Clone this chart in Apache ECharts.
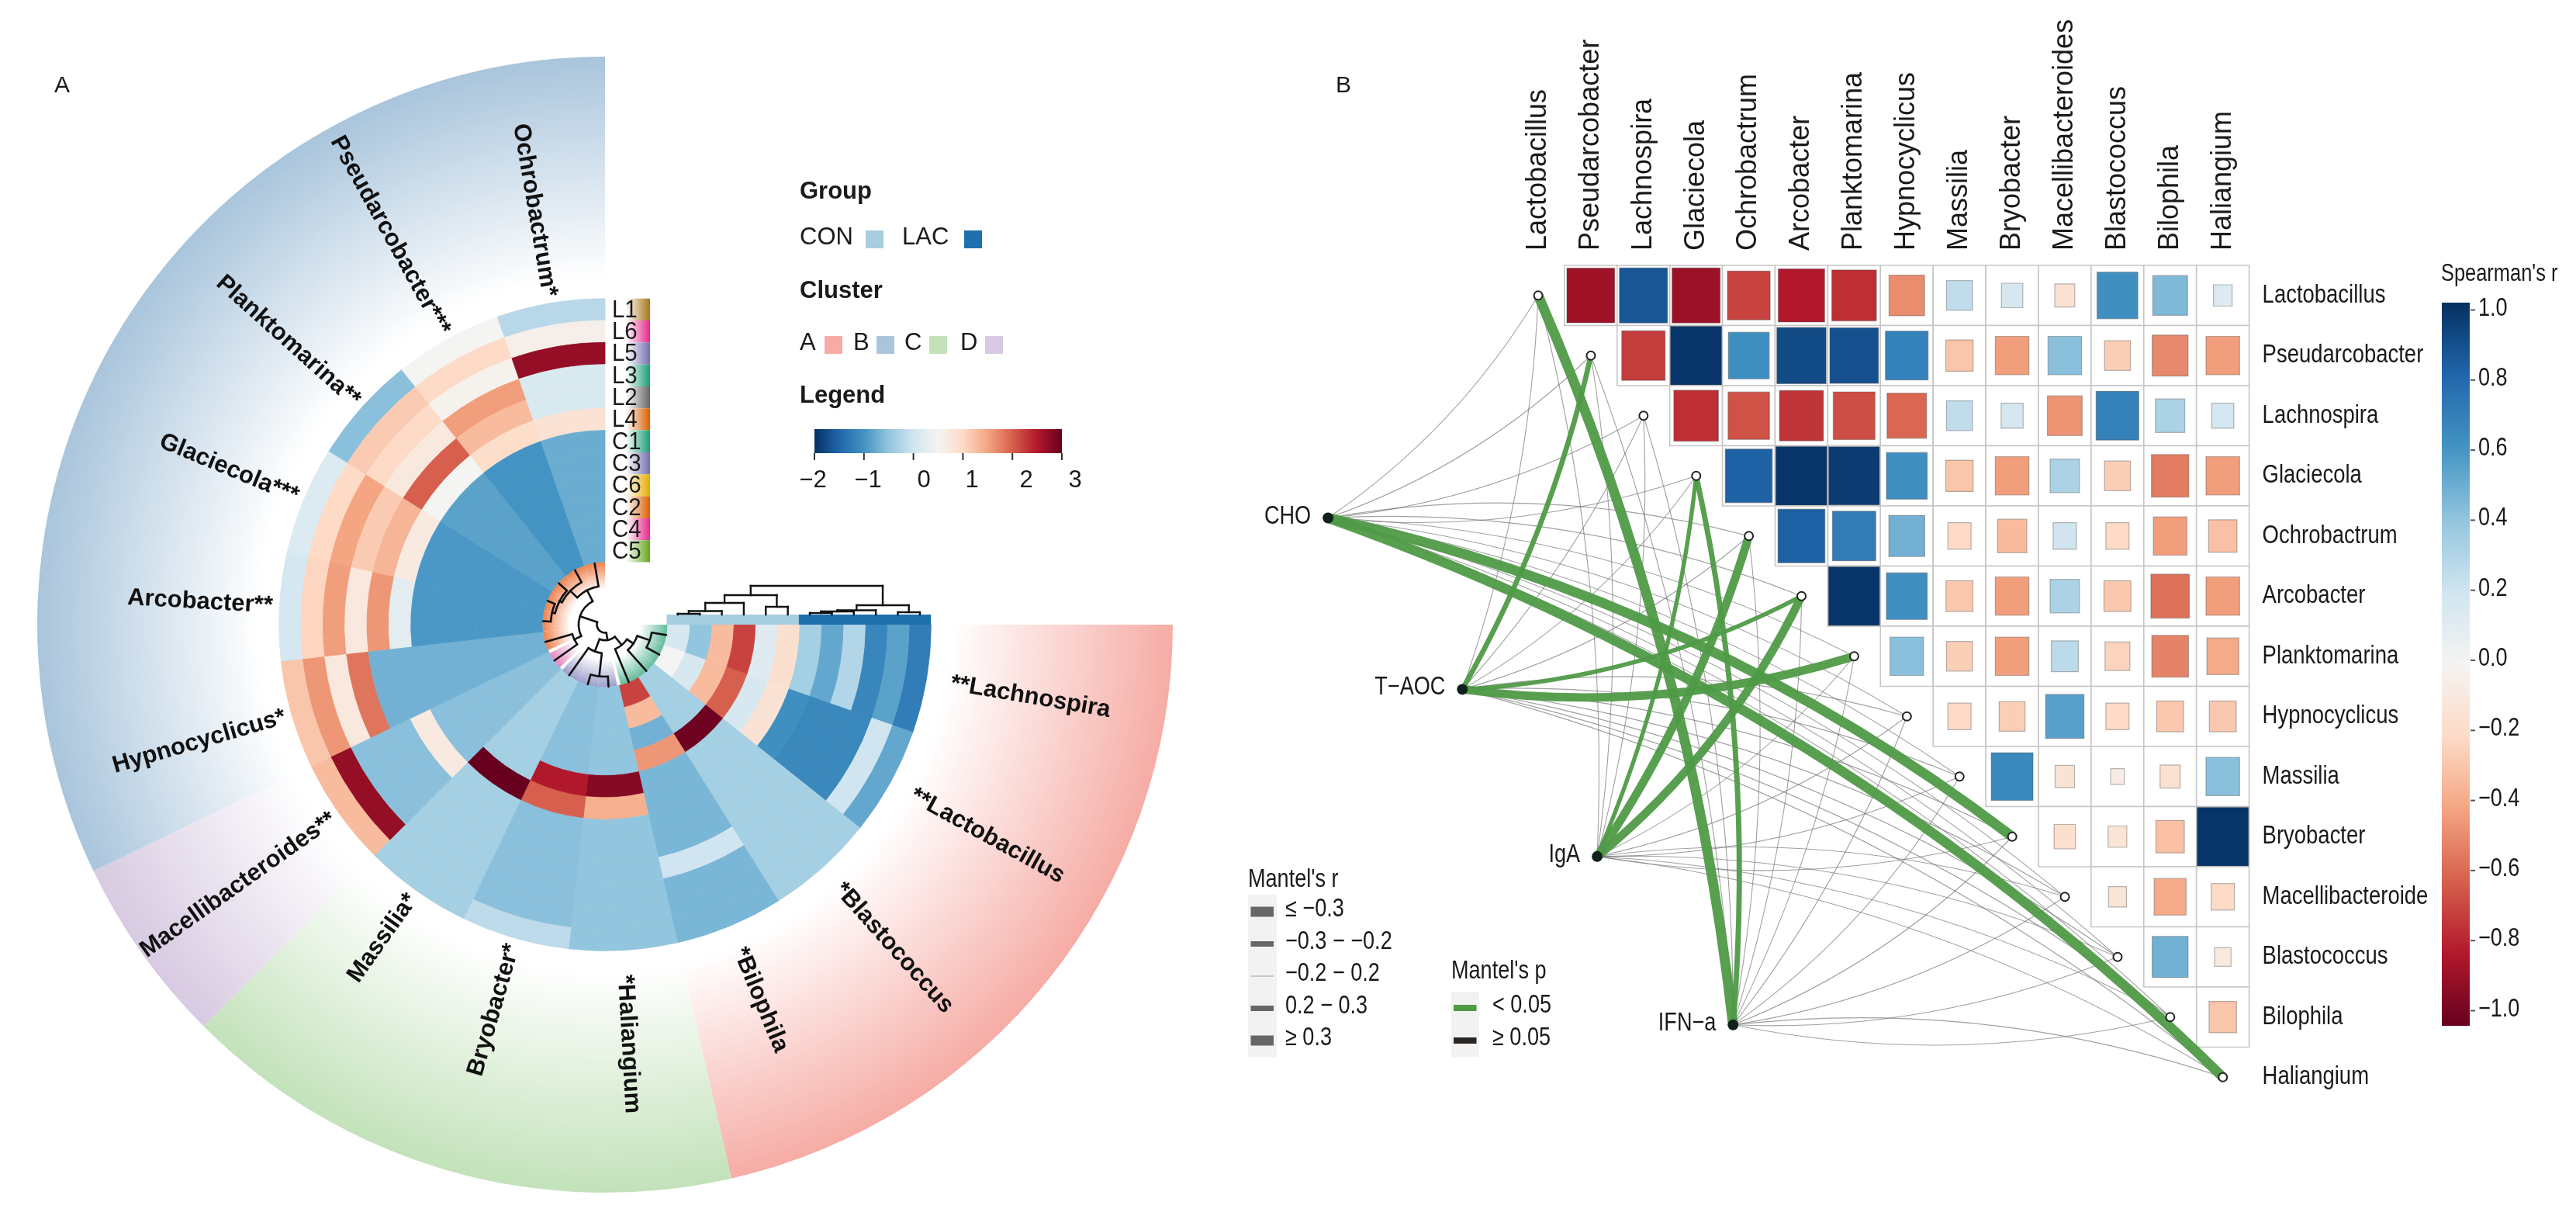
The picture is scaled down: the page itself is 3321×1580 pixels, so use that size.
<!DOCTYPE html>
<html><head><meta charset="utf-8">
<style>html,body{margin:0;padding:0;background:#fff}#c{width:3321px;height:1580px}</style>
<script src="https://cdn.jsdelivr.net/npm/echarts@6/dist/echarts.min.js"></script>
</head><body><div id="c"></div>
<script>
// ---------- Panel A data ----------
const sectorLabels = ['**Lachnospira','**Lactobacillus','*Blastococcus','*Bilophila','*Haliangium','Bryobacter*','Massilia*','Macellibacteroides**','Hypnocyclicus*','Arcobacter**','Glaciecola***','Planktomarina**','Pseudarcobacter***','Ochrobactrum*'];
const ringNames = ['L1','L6','L5','L3','L2','L4','C1','C3','C6','C2','C4','C5'];
const ringDark2 = ['#a6761d','#e7298a','#7570b3','#1b9e77','#666666','#d95f02','#1b9e77','#7570b3','#e6ab02','#d95f02','#e7298a','#66a61e'];
const ringL1 = [-1.25,-.8,-.35,-.65,-.5,-.15,-.35,1.3,1.2,.05,.15,-.55,.5,-.2];
const ringL6 = [-.85,0,-.35,-.65,-.5,-.55,-.35,2.7,1.6,1.05,1,1.15,1,.6];
const ringL5 = [-1.15,-1.12,-.35,-.65,-.5,-.55,-.35,-.55,.75,1.55,1.5,1,.55,2.7];
const ringL3 = [-.25,-1.12,-.35,0,-.5,-.55,-.35,-.55,1.85,.75,1.15,.75,1.55,.12];
const ringL2 = [-.8,-1.12,-.35,-.65,-.5,-.55,-.35,-.55,-.7,1.6,1.35,2,1.3,.12];
const ringL4 = [-.35,-1.05,-.35,-.65,-.5,-.55,-.35,.7,-.7,.25,.7,.5,.95,.85];
const ringC1 = [.9,.85,-.35,-.65,1.4,2,3,-.55,-.7,-.95,-.95,-.85,-1,-.75];
const ringC3 = [.2,.1,-.35,-.65,2.8,2.5,-.35,-.55,-.7,-.95,-.95,-.85,-1,-.75];
const ringC6 = [2.2,2,2.95,1.6,-.5,-.55,-.35,-.55,-.7,-.95,-.95,-.85,-1,-.75];
const ringC2 = [1.3,1.3,-.35,-.7,-.5,-.55,-.35,-.55,-.7,-.95,-.95,-.85,-1,-.75];
const ringC4 = [-.5,.1,-.35,1.3,-.5,-.55,-.35,-.55,-.7,-.95,-.95,-.85,-1,-.75];
const ringC5 = [.1,.5,-.35,2.2,-.5,-.55,-.35,-.55,-.7,-.95,-.95,-.85,-1,-.75];
const rings = [ringL1,ringL6,ringL5,ringL3,ringL2,ringL4,ringC1,ringC3,ringC6,ringC2,ringC4,ringC5];
const clusterNames = ['A','C','D','B'];
const clusterSpan = [4,3,1,6];
const clusterColors = ['#f6aca5','#c3e2ba','#d8cae2','#a9c5dc'];
const leafColors = ['#63bb9c','#9d9ecb','#e58ac0','#ef8250'];
const heatStops = ['#053061','#2166ac','#4393c3','#92c5de','#d1e5f0','#f4f4f2','#fddbc7','#f4a582','#d6604d','#b2182b','#67001f'];
// row dendrogram: [merge height, child, child]; leaves are sector indexes
const rowTree = [10.5,
  [34,[50,13,[62.5,12,[66,11,[70,10,9]]]],[44,8,7]],
  [20,[37,6,[67,5,4]],[34,3,[44,2,[61,1,0]]]]];
// column dendrogram: leaves are ring indexes counted from the centre
const colTree = [37,
  [25,[15,[4.5,[1,0,1],2],3],[10,4,5]],
  [12,[5.5,[4,[2,6,7],8],9],[3,10,11]]];
const groupNames = ['CON','LAC'];
const groupColors = ['#a6cde0','#1f70ad'];

// ---------- Panel B data ----------
const taxa = ['Lactobacillus','Pseudarcobacter','Lachnospira','Glaciecola','Ochrobactrum','Arcobacter','Planktomarina','Hypnocyclicus','Massilia','Bryobacter','Macellibacteroides','Blastococcus','Bilophila','Haliangium'];
const rightLabels = ['Lactobacillus','Pseudarcobacter','Lachnospira','Glaciecola','Ochrobactrum','Arcobacter','Planktomarina','Hypnocyclicus','Massilia','Bryobacter','Macellibacteroide','Blastococcus','Bilophila','Haliangium'];
const rLactobacillus = [-.85,.86,-.86,-.68,-.8,-.74,-.47,.25,.17,-.15,.62,.45,.13];
const rPseudarcobacter = [-.7,.98,.62,.9,.88,.68,-.28,-.42,.42,-.25,-.48,-.42];
const rLachnospira = [-.74,-.64,-.72,-.65,-.58,.25,.18,-.45,.68,.32,.18];
const rGlaciecola = [.82,.98,.96,.62,-.28,-.42,.32,-.25,-.52,-.42];
const rOchrobactrum = [.82,.7,.48,-.2,-.32,.2,-.2,-.42,-.3];
const rArcobacter = [.98,.62,-.27,-.42,.32,-.27,-.55,-.42];
const rPlanktomarina = [.42,-.25,-.42,.27,-.23,-.5,-.38];
const rHypnocyclicus = [-.2,-.25,.55,-.2,-.27,-.27];
const rMassilia = [.65,-.14,-.07,-.15,.42];
const rBryobacter = [-.17,-.13,-.3,.98];
const rMacellibacteroides = [-.12,-.38,-.2];
const rBlastococcus = [.48,-.1];
const rBilophila = [-.28];
const corrRows = [rLactobacillus,rPseudarcobacter,rLachnospira,rGlaciecola,rOchrobactrum,rArcobacter,rPlanktomarina,rHypnocyclicus,rMassilia,rBryobacter,rMacellibacteroides,rBlastococcus,rBilophila];
const envNames = ['CHO','T\u2212AOC','IgA','IFN\u2212a'];
const envCol = [-3.99,-1.44,1.12,3.7];
const envRow = [3.7,6.55,9.33,12.13];
const mantelCHO  = [.1,.1,.1,.1,.1,.1,.1,.1,.1,.43,.1,.1,.1,.43];
const mantelTAOC = [.1,.22,.1,.1,.1,.18,.36,.1,.1,.1,.1,.1,.1,.1];
const mantelIgA  = [.1,.1,.1,.18,.36,.36,.1,.1,.1,.1,.1,.1,.1,.1];
const mantelIFN  = [.43,.1,.1,.23,.1,.1,.1,.1,.1,.1,.1,.1,.1,.1];
const mantelAll = [mantelCHO,mantelTAOC,mantelIgA,mantelIFN];
const mantelRLabels = ['\u2264 \u22120.3','\u22120.3 \u2212 \u22120.2','\u22120.2 \u2212 0.2','0.2 \u2212 0.3','\u2265 0.3'];
const mantelPLabels = ['< 0.05','\u2265 0.05'];
const heatTicks = ['\u22122','\u22121','0','1','2','3'];
const corrTicks = [1,.8,.6,.4,.2,0,-.2,-.4,-.6,-.8,-1];

// ---------- helpers ----------
const FF = '"Liberation Sans",Arial,sans-serif';
const NARROW = .82;   // panel B text is horizontally condensed
function hex(c){return [1,3,5].map(i=>parseInt(c.substr(i,2),16));}
function ramp(t){t=Math.max(0,Math.min(1,t));const n=heatStops.length-1,p=t*n,i=Math.min(n-1,Math.floor(p)),f=p-i,a=hex(heatStops[i]),b=hex(heatStops[i+1]);
  return 'rgb('+a.map((v,k)=>Math.round(v+(b[k]-v)*f)).join(',')+')';}
const heatColor = v => ramp((v+2)/5);
const corrColor = v => ramp((1-v)/2);
const rampStops = ()=>heatStops.map((c,i)=>({offset:i/(heatStops.length-1),color:c}));
function lerpGrad(x,y,x2,y2,stops){return new echarts.graphic.LinearGradient(x,y,x2,y2,stops);}

const SEC = 270/14;           // degrees per sector
const R0 = 80.4, RH = 28.33;  // ring inner radius and ring height
const ringOuter = k => R0 + RH*(12-k);
const ringRad = ringOuter(0);
const RB = 732;               // outer radius of the cluster band
const rad = d => d*Math.PI/180;

function polarDist(api,r){const p=api.coord([r,0]);const o=api.coord([0,0]);return Math.hypot(p[0]-o[0],p[1]-o[1]);}
function sector(api,r0,r1,a0,a1,fill,stroke){const o=api.coord([0,0]);
  return {type:'sector',shape:{cx:o[0],cy:o[1],r0:polarDist(api,r0),r:polarDist(api,r1),startAngle:rad(a0),endAngle:rad(a1),clockwise:true},style:{fill,stroke:stroke||null,lineWidth:stroke?0.8:0}};}
function textStyle(text,font,al){return {text,font,fill:'#1a1a1a',align:al,textAlign:al,verticalAlign:'middle',textVerticalAlign:'middle'};}

// ---------- series data ----------
const heatData=[];rings.forEach((vals,k)=>vals.forEach((v,s)=>heatData.push([s,k,v])));
const clusterData=[];{let s=0;clusterSpan.forEach((n,i)=>{clusterData.push([s,s+n,i]);s+=n;});}
const leafData=[];{let s=0;clusterSpan.forEach((n,i)=>{for(let j=0;j<n;j++)leafData.push([s+j,i]);s+=n;});}
const polarSegs=[];
function walkPolar(node){ if(typeof node==='number') return {a:(node+.5)*SEC,r:80};
  const h=node[0],c1=walkPolar(node[1]),c2=walkPolar(node[2]);
  polarSegs.push(['arc',h,Math.min(c1.a,c2.a),Math.max(c1.a,c2.a)]);
  polarSegs.push(['rad',h,c1.r,c1.a]);polarSegs.push(['rad',h,c2.r,c2.a]);
  return {a:(c1.a+c2.a)/2,r:h};}
walkPolar(rowTree);
const colSegs=[];
function walkCol(node){ if(typeof node==='number') return {x:node,h:0};
  const h=node[0],c1=walkCol(node[1]),c2=walkCol(node[2]);
  colSegs.push([c1.x,c1.h,c1.x,h]);colSegs.push([c1.x,h,c2.x,h]);colSegs.push([c2.x,h,c2.x,c2.h]);
  return {x:(c1.x+c2.x)/2,h};}
walkCol(colTree);
const corrData=[];corrRows.forEach((row,i)=>row.forEach((v,n)=>corrData.push([i+1+n,i,v])));
const lineData=[];
[false,true].forEach(sig=>mantelAll.forEach((vals,e)=>vals.forEach((m,s)=>{
  const isSig=m>=.15; if(isSig!==sig) return;
  const up=s<envRow[e];
  const steep=Math.abs(s-envRow[e])*77.5>Math.abs(s-envCol[e])*67.9*1.5;
  const c=steep?.075:.11;
  lineData.push({coords:[[envCol[e],envRow[e]],[s,s]],lineStyle:{width:isSig?m*30:1.1,color:isSig?'#4f9a47':'#6e6e6e',opacity:isSig?.95:.65,curveness:up?-c:c}});
})));

// ---------- graphic legends ----------
const G=[];
function T(text,x,y,size,opt){opt=opt||{};const a=opt.align||'left';G.push({type:'text',x,y,silent:true,z:20,scaleX:opt.sx||1,style:textStyle(text,(opt.bold?'bold ':'')+size+'px '+FF,a)});}
function RB_(x,y,w,h,fill){G.push({type:'rect',x,y,silent:true,z:10,shape:{x:0,y:0,width:w,height:h},style:{fill}});}
T('A',70,111,30);T('B',1722,111,30);
T('Group',1031,247,31,{bold:true});
T(groupNames[0],1031,306,31);RB_(1116,297,23,23,groupColors[0]);
T(groupNames[1],1163,306,31);RB_(1243,297,23,23,groupColors[1]);
T('Cluster',1031,375,31,{bold:true});
[[1031,1063,0],[1100,1130,3],[1166,1198,1],[1238,1270,2]].forEach(a=>{T(clusterNames[a[2]],a[0],442,31);RB_(a[1],433,23,23,clusterColors[a[2]]);});
T('Legend',1031,510,31,{bold:true});
RB_(1050,553,319,31,lerpGrad(0,0,1,0,rampStops()));
heatTicks.forEach((t,i)=>{RB_(1049+i*63.8,584,2,9,'#333');});
[1048,1119,1191,1253,1323,1386].forEach((x,i)=>T(heatTicks[i],x,619,31,{align:'center'}));
// Spearman bar
T("Spearman's r",3147,353,31,{sx:NARROW});
RB_(3148,390,36,932,lerpGrad(0,0,0,1,rampStops()));
corrTicks.forEach(v=>{const y=851-v*451.5;RB_(3185,y-1,6,2,'#555');T((v<0?'\u2212':'')+Math.abs(v).toFixed(1),3195,y-2,33,{sx:NARROW});});
// Mantel legends
T("Mantel's r",1609,1134,33,{sx:NARROW});RB_(1609,1153,37,209,'#f2f2f2');
[13,7,1.5,7,13].forEach((w,i)=>{const y=1175+i*41.5;RB_(1612.5,y-w/2,29.5,w,i==2?'#bdbdbd':'#666');T(mantelRLabels[i],1657,y-3,33,{sx:NARROW});});
T("Mantel's p",1871,1252,33,{sx:NARROW});RB_(1871,1278,36,84,'#f2f2f2');
['#4f9a47','#2a2623'].forEach((c,i)=>{const y=1299+i*42;RB_(1874,y-4,29.5,8,c);T(mantelPLabels[i],1924,y-3,33,{sx:NARROW});});

// ---------- option ----------
const chart=echarts.init(document.getElementById('c'),null,{renderer:'canvas'});
chart.setOption({
  animation:false,backgroundColor:'#fff',
  polar:{center:[780,805],radius:[0,RB]},
  radiusAxis:{type:'value',min:0,max:RB,show:false},
  angleAxis:{type:'value',min:0,max:360,startAngle:0,clockwise:true,show:false},
  grid:[
    {left:1949,width:950.6,top:342,height:1085},
    {left:1677.5,width:1222.2,top:342,height:1085},
    {left:859.6,width:340.5,top:750,height:55}
  ],
  xAxis:[
    {gridIndex:0,type:'category',position:'top',data:taxa,axisLine:{show:false},axisTick:{show:false},splitLine:{show:false},
     axisLabel:{rotate:-90,fontSize:36,fontFamily:FF,color:'#1a1a1a',margin:19,interval:0}},
    {gridIndex:1,type:'value',min:-4.5,max:13.5,show:false},
    {gridIndex:2,type:'value',min:-.5,max:11.5,show:false}
  ],
  yAxis:[
    {gridIndex:0,type:'category',position:'right',inverse:true,data:rightLabels,axisLine:{show:false},axisTick:{show:false},splitLine:{show:false},axisLabel:{show:false}},
    {gridIndex:1,type:'value',inverse:true,min:-.5,max:13.5,show:false},
    {gridIndex:2,type:'value',min:-13,max:42,show:false}
  ],
  graphic:G,
  series:[
    {type:'custom',coordinateSystem:'polar',z:1,silent:true,data:clusterData,
     renderItem(p,api){const o=api.coord([0,0]),R=polarDist(api,RB),s=api.value(0),e=api.value(1),c=clusterColors[api.value(2)];
       const g=new echarts.graphic.RadialGradient(o[0],o[1],R,[{offset:0,color:'#fff'},{offset:polarDist(api,ringRad+25)/R,color:'#fff'},{offset:1,color:c}],true);
       return sector(api,ringRad+2,RB,s*SEC,e*SEC,g);}},
    {type:'custom',coordinateSystem:'polar',z:2,silent:true,data:heatData,
     renderItem(p,api){const s=api.value(0),k=api.value(1),c=heatColor(api.value(2));
       return sector(api,ringOuter(k+1),ringOuter(k),s*SEC,(s+1)*SEC,c,c);}},
    {type:'custom',coordinateSystem:'polar',z:2,silent:true,data:leafData,
     renderItem(p,api){const o=api.coord([0,0]),R=polarDist(api,R0),s=api.value(0),c=leafColors[api.value(1)];
       const g=new echarts.graphic.RadialGradient(o[0],o[1],R,[{offset:0,color:'#fff'},{offset:.56,color:'#fff'},{offset:1,color:c}],true);
       return sector(api,30,R0,s*SEC+(s==4||s==8||s==7?1.6:0),(s+1)*SEC-(s==3||s==6||s==7?1.6:0),g);}},
    {type:'custom',coordinateSystem:'polar',z:3,silent:true,data:polarSegs.map((s,i)=>[i]),
     renderItem(p,api){const s=polarSegs[api.value(0)],o=api.coord([0,0]);const st={stroke:'#111',lineWidth:2.6,fill:null,lineCap:'round'};
       if(s[0]==='arc')return {type:'arc',shape:{cx:o[0],cy:o[1],r:polarDist(api,s[1]),startAngle:rad(s[2]),endAngle:rad(s[3]),clockwise:true},style:st};
       const a=api.coord([s[1],s[3]]),b=api.coord([s[2],s[3]]);
       return {type:'line',shape:{x1:a[0],y1:a[1],x2:b[0],y2:b[1]},style:st};}},
    {type:'custom',coordinateSystem:'polar',z:4,silent:true,data:sectorLabels.map((_,i)=>[i]),
     renderItem(p,api){const i=api.value(0),th=(i+.5)*SEC,out=i<=4;const q=api.coord([out?452:429,th]);
       const rot=out?-rad(th):-rad(th+180);const al=out?'left':'right';
       return {type:'text',x:q[0],y:q[1],rotation:rot,style:Object.assign(textStyle(sectorLabels[i],'bold 31px '+FF,al),{fill:'#111'})};}},
    {type:'custom',coordinateSystem:'polar',z:4,silent:true,data:ringNames.map((_,i)=>[i]),
     renderItem(p,api){const k=api.value(0),o=api.coord([0,0]),y0=o[1]-polarDist(api,ringOuter(k)),y1=o[1]-polarDist(api,ringOuter(k+1)),x=o[0]+1;
       return {type:'group',children:[
         {type:'rect',shape:{x,y:y0,width:57,height:y1-y0},style:{fill:new echarts.graphic.LinearGradient(0,0,1,0,[{offset:0,color:'#fff'},{offset:.45,color:'#fff'},{offset:1,color:ringDark2[k]}])}},
         {type:'text',x:x+8,y:(y0+y1)/2+1,scaleX:.92,style:textStyle(ringNames[k],'32px '+FF,'left')}]};}},
    {type:'custom',xAxisIndex:2,yAxisIndex:2,z:3,silent:true,data:[0,1].map(g=>[g]),
     renderItem(p,api){const g=api.value(0);const a=api.coord([g*6-.5,0]),b=api.coord([g*6+5.5,-13]);
       return {type:'rect',shape:{x:a[0],y:a[1],width:b[0]-a[0],height:b[1]-a[1]},style:{fill:groupColors[g]}};}},
    {type:'custom',xAxisIndex:2,yAxisIndex:2,z:3,silent:true,data:colSegs.map((s,i)=>[i]),
     renderItem(p,api){const s=colSegs[api.value(0)],a=api.coord([s[0],s[1]]),b=api.coord([s[2],s[3]]);
       return {type:'line',shape:{x1:a[0],y1:a[1],x2:b[0],y2:b[1]},style:{stroke:'#111',lineWidth:2.4,lineCap:'square'}};}},
    {type:'custom',xAxisIndex:0,yAxisIndex:0,z:2,silent:true,data:corrData,
     renderItem(p,api){const c=api.coord([api.value(0),api.value(1)]),s=api.size([1,1]),v=api.value(2),f=Math.sqrt(Math.abs(v))*.985,w=s[0]*f,h=s[1]*f;
       return {type:'group',children:[
         {type:'rect',shape:{x:c[0]-s[0]/2,y:c[1]-s[1]/2,width:s[0],height:s[1]},style:{fill:'#fff',stroke:'#c6c6c6',lineWidth:1.6}},
         {type:'rect',shape:{x:c[0]-w/2,y:c[1]-h/2,width:w,height:h},style:{fill:corrColor(v),stroke:'rgba(80,80,80,.4)',lineWidth:1.2}}]};}},
    // right-hand row labels
    {type:'custom',xAxisIndex:0,yAxisIndex:0,z:6,silent:true,data:rightLabels.map((_,i)=>[13.5,i]),
     renderItem(p,api){const c=api.coord([13,api.value(1)]),s=api.size([1,1]);
       return {type:'text',x:c[0]+s[0]/2+17,y:c[1],scaleX:NARROW,style:textStyle(rightLabels[api.value(1)],'33.5px '+FF,'left')};}},
    {type:'lines',coordinateSystem:'cartesian2d',xAxisIndex:1,yAxisIndex:1,z:5,silent:true,polyline:false,progressive:0,data:lineData},
    {type:'scatter',xAxisIndex:1,yAxisIndex:1,z:6,silent:true,symbolSize:11,data:taxa.map((_,i)=>[i,i]),
     itemStyle:{color:'#fff',borderColor:'#222',borderWidth:2,opacity:1}},
    {type:'scatter',xAxisIndex:1,yAxisIndex:1,z:6,silent:true,symbolSize:14,
     data:envCol.map((x,i)=>[x,envRow[i]]),itemStyle:{color:'#10201a',opacity:1}},
    {type:'custom',xAxisIndex:1,yAxisIndex:1,z:6,silent:true,data:envCol.map((x,i)=>[x,envRow[i],i]),
     renderItem(p,api){const c=api.coord([api.value(0),api.value(1)]);
       return {type:'text',x:c[0]-22,y:c[1]-2,scaleX:NARROW,style:textStyle(envNames[api.value(2)],'33px '+FF,'right')};}}
  ]
});
</script></body></html>
